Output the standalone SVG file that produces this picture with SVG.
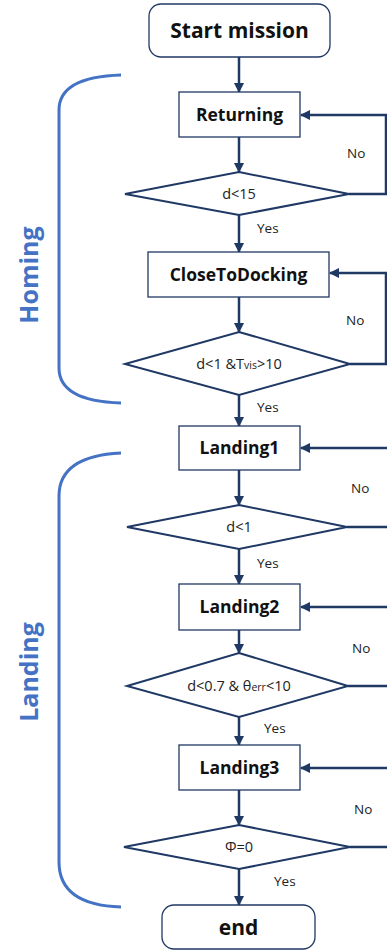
<svg xmlns="http://www.w3.org/2000/svg" width="387" height="952" viewBox="0 0 387 952">
  <defs>
    <marker id="arrow" viewBox="0 0 10 10" refX="9" refY="5" markerWidth="10" markerHeight="10" markerUnits="userSpaceOnUse" orient="auto">
      <path d="M0,0 L10,5 L0,10 Z" fill="#1f3864"/>
    </marker>
    <style>
      .box { fill: #ffffff; stroke: #1f3864; stroke-width: 1.3; }
      .term { fill: #ffffff; stroke: #1f3864; stroke-width: 1.3; }
      .dec { fill: #ffffff; stroke: #1f3864; stroke-width: 2; }
      .edge { fill: none; stroke: #1f3864; stroke-width: 2.5; }
      .brace { fill: none; stroke: #4472c4; stroke-width: 3; }
      .title { font-family: "Open Sans", "Liberation Sans", sans-serif; font-weight: bold; fill: #111111; text-anchor: middle; }
      .cond { font-family: "Open Sans", "Liberation Sans", sans-serif; font-size: 14.5px; fill: #222222; text-anchor: middle; }
      .lbl { font-family: "Open Sans", "Liberation Sans", sans-serif; font-size: 13.5px; fill: #222222; }
      .phase { font-family: "Open Sans", "Liberation Sans", sans-serif; font-weight: bold; font-size: 25px; fill: #4472c4; text-anchor: middle; }
    </style>
  </defs>

  <!-- phase brackets -->
  <g id="homing-bracket">
    <path class="brace" d="M121,75 Q59,77 59,110 L59,368 Q59,401 121,403"/>
    <text class="phase" transform="translate(38,275) rotate(-90)">Homing</text>
  </g>
  <g id="landing-bracket">
    <path class="brace" d="M121,453 Q59,456 59,496 L59,862 Q59,905 121,907"/>
    <text class="phase" transform="translate(38,672) rotate(-90)">Landing</text>
  </g>

  <!-- connectors -->
  <g id="connectors">
    <path class="edge" d="M239,57 V92" marker-end="url(#arrow)"/>
    <path class="edge" d="M239,137 V172" marker-end="url(#arrow)"/>
    <path class="edge" d="M239,215 V252" marker-end="url(#arrow)"/>
    <path class="edge" d="M239,297 V332" marker-end="url(#arrow)"/>
    <path class="edge" d="M239,395 V426" marker-end="url(#arrow)"/>
    <path class="edge" d="M239,470 V505" marker-end="url(#arrow)"/>
    <path class="edge" d="M239,549 V584" marker-end="url(#arrow)"/>
    <path class="edge" d="M239,630 V653" marker-end="url(#arrow)"/>
    <path class="edge" d="M239,717 V745" marker-end="url(#arrow)"/>
    <path class="edge" d="M239,790 V825" marker-end="url(#arrow)"/>
    <path class="edge" d="M239,869 V905" marker-end="url(#arrow)"/>

    <!-- retry loops -->
    <path class="edge" d="M349,194 H386 V115 H301" marker-end="url(#arrow)"/>
    <path class="edge" d="M350,364 H386 V273 H330" marker-end="url(#arrow)"/>
    <path class="edge" d="M390,448 H301" marker-end="url(#arrow)"/>
    <path class="edge" d="M347,527 H390"/>
    <path class="edge" d="M390,607 H301" marker-end="url(#arrow)"/>
    <path class="edge" d="M348,686 H390"/>
    <path class="edge" d="M390,768 H301" marker-end="url(#arrow)"/>
    <path class="edge" d="M350,847 H390"/>

    <text class="lbl" x="347" y="158">No</text>
    <text class="lbl" x="257" y="233">Yes</text>
    <text class="lbl" x="346" y="325">No</text>
    <text class="lbl" x="257" y="412">Yes</text>
    <text class="lbl" x="351" y="493">No</text>
    <text class="lbl" x="257" y="568">Yes</text>
    <text class="lbl" x="352" y="653">No</text>
    <text class="lbl" x="264" y="733">Yes</text>
    <text class="lbl" x="354" y="814">No</text>
    <text class="lbl" x="274" y="886">Yes</text>
  </g>

  <!-- nodes -->
  <g id="start">
    <rect class="term" x="149" y="4" width="181" height="53" rx="12"/>
    <text class="title" x="239.5" y="38" font-size="21">Start mission</text>
  </g>
  <g id="returning">
    <rect class="box" x="179" y="92" width="121" height="45"/>
    <text class="title" x="239.5" y="121" font-size="17.5">Returning</text>
  </g>
  <g id="check-d15">
    <polygon class="dec" points="239,172 349,194 239,215 125,194"/>
    <text class="cond" x="239" y="199">d&lt;15</text>
  </g>
  <g id="close-to-docking">
    <rect class="box" x="148" y="252" width="181" height="45"/>
    <text class="title" x="238.5" y="281" font-size="17.5">CloseToDocking</text>
  </g>
  <g id="check-d1-tvis">
    <polygon class="dec" points="239,332 350,364 239,395 125,364"/>
    <text class="cond" x="239" y="369">d&lt;1 &amp;T<tspan font-size="10.5">vis</tspan>&gt;10</text>
  </g>
  <g id="landing1">
    <rect class="box" x="179" y="426" width="121" height="44"/>
    <text class="title" x="239.5" y="454" font-size="17.5">Landing1</text>
  </g>
  <g id="check-d1">
    <polygon class="dec" points="239,505 347,527 239,549 127,527"/>
    <text class="cond" x="239" y="532">d&lt;1</text>
  </g>
  <g id="landing2">
    <rect class="box" x="179" y="584" width="121" height="46"/>
    <text class="title" x="239.5" y="613" font-size="17.5">Landing2</text>
  </g>
  <g id="check-d07-theta">
    <polygon class="dec" points="239,653 348,686 239,717 127,686"/>
    <text class="cond" x="239" y="691">d&lt;0.7 &amp; θ<tspan font-size="10.5">err</tspan>&lt;10</text>
  </g>
  <g id="landing3">
    <rect class="box" x="179" y="745" width="121" height="45"/>
    <text class="title" x="239.5" y="774" font-size="17.5">Landing3</text>
  </g>
  <g id="check-phi">
    <polygon class="dec" points="239,825 350,847 239,869 124,847"/>
    <text class="cond" x="239" y="852">Φ=0</text>
  </g>
  <g id="end">
    <rect class="term" x="162" y="905" width="153" height="44" rx="12"/>
    <text class="title" x="238.5" y="935" font-size="21">end</text>
  </g>
</svg>
